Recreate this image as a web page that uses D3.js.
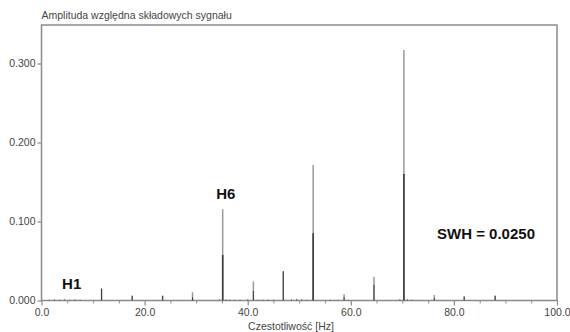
<!DOCTYPE html>
<html>
<head>
<meta charset="utf-8">
<script src="https://cdn.jsdelivr.net/npm/d3@7"></script>
<style>
  body { margin: 0; background: #fff; }
  svg { display: block; font-family: "Liberation Sans", Arial, sans-serif; }
</style>
</head>
<body>
<svg id="chart" width="570" height="332"></svg>
<script>
// Harmonic frequencies [Hz]
const freqs = [11.65, 17.6, 23.5, 29.3, 35.15, 41.1, 46.9, 52.7, 58.7, 64.5, 70.3, 76.2, 82.0, 88.0];
// light (gray) series amplitudes
const ampLight = [0.015, 0.006, 0.006, 0.0105, 0.1155, 0.024, 0.037, 0.1715, 0.008, 0.030, 0.317, 0.007, 0.005, 0.006];
// dark series amplitudes
const ampDark = [0.015, 0.006, 0.006, 0.004, 0.0576, 0.012, 0.037, 0.085, 0.004, 0.020, 0.160, 0.003, 0.005, 0.006];
// small baseline noise components
const noiseFreqs = [1.5, 2.5, 3.5, 4.5, 5.5, 6.5, 7.5, 34.5, 35.8, 36.5, 37.5, 38.5, 40.0, 42.0, 43.0, 44.0, 45.0, 48.5, 49.5, 50.5, 51.5, 56.0, 57.5, 59.5, 69.5, 71.0, 71.8];
const noiseAmps  = [0.001, 0.0015, 0.001, 0.0015, 0.001, 0.0015, 0.001, 0.0015, 0.0015, 0.001, 0.001, 0.001, 0.0015, 0.001, 0.001, 0.001, 0.001, 0.0015, 0.002, 0.0015, 0.001, 0.001, 0.001, 0.001, 0.0015, 0.0015, 0.001];
const xTicks = [0, 20, 40, 60, 80, 100];
const xMinorTicks = [5, 10, 15, 25, 30, 35, 45, 50, 55, 65, 70, 75, 85, 90, 95];
const yTicks = [0, 0.1, 0.2, 0.3];
const labels = [
  { text: "H1", f: 4.0, a: 0.014 },
  { text: "H6", f: 33.9, a: 0.128 }
];
const swhText = "SWH = 0.0250";

const svg = d3.select("#chart");
const mLeft = 41.5, mRight = 557, mTop = 25, mBottom = 300.5;
const x = d3.scaleLinear().domain([0, 100]).range([mLeft, mRight]);
const y = d3.scaleLinear().domain([0, 0.1]).range([mBottom, mBottom - 79]);

const axisColor = "#8a8a8a";
const textColor = "#444";

// frame
svg.append("rect")
  .attr("x", mLeft).attr("y", mTop)
  .attr("width", mRight - mLeft).attr("height", mBottom - mTop)
  .attr("fill", "none").attr("stroke", axisColor).attr("stroke-width", 1.5);

// x axis
const xAxis = d3.axisBottom(x).tickValues(xTicks).tickFormat(d3.format(".1f")).tickSize(5).tickPadding(3);
const gx = svg.append("g").attr("transform", `translate(0,${mBottom})`).call(xAxis);
gx.select(".domain").remove();
gx.selectAll("line").attr("stroke", axisColor).attr("stroke-width", 1.2);
gx.selectAll("text").attr("fill", textColor).style("font-size", "10.5px");

const xMinor = d3.axisBottom(x).tickValues(xMinorTicks).tickFormat("").tickSize(3);
const gxm = svg.append("g").attr("transform", `translate(0,${mBottom})`).call(xMinor);
gxm.select(".domain").remove();
gxm.selectAll("line").attr("stroke", axisColor);

// y axis
const yAxis = d3.axisLeft(y).tickValues(yTicks).tickFormat(d3.format(".3f")).tickSize(4).tickPadding(2);
const gy = svg.append("g").attr("transform", `translate(${mLeft},0)`).call(yAxis);
gy.select(".domain").remove();
gy.selectAll("line").attr("stroke", axisColor).attr("stroke-width", 1.2);
gy.selectAll("text").attr("fill", textColor).style("font-size", "10.5px");

// titles
svg.append("text").attr("x", mLeft).attr("y", 19)
  .attr("fill", textColor).style("font-size", "10.5px")
  .text("Amplituda względna składowych sygnału");
svg.append("text").attr("x", 291).attr("y", 330).attr("text-anchor", "middle")
  .attr("fill", textColor).style("font-size", "10.5px")
  .text("Czestotliwość [Hz]");

// noise
svg.append("g").selectAll("line").data(noiseFreqs).join("line")
  .attr("x1", d => x(d)).attr("x2", d => x(d))
  .attr("y1", y(0)).attr("y2", (d, i) => y(noiseAmps[i]))
  .attr("stroke", "#555").attr("stroke-width", 1);

// light series
svg.append("g").selectAll("line").data(freqs).join("line")
  .attr("x1", d => x(d)).attr("x2", d => x(d))
  .attr("y1", y(0)).attr("y2", (d, i) => y(ampLight[i]))
  .attr("stroke", "#9a9a9a").attr("stroke-width", 1.5);

// dark series
svg.append("g").selectAll("line").data(freqs).join("line")
  .attr("x1", d => x(d)).attr("x2", d => x(d))
  .attr("y1", y(0)).attr("y2", (d, i) => y(ampDark[i]))
  .attr("stroke", "#3a3a3a").attr("stroke-width", (d, i) => ampDark[i] > 0.04 ? 1.6 : 1);

// labels
svg.append("g").selectAll("text").data(labels).join("text")
  .attr("x", d => x(d.f)).attr("y", d => y(d.a))
  .attr("fill", "#111").style("font-size", "15px").style("font-weight", "bold")
  .text(d => d.text);
svg.append("text").attr("x", 437).attr("y", 239)
  .attr("fill", "#111").style("font-size", "15px").style("font-weight", "bold")
  .text(swhText);
</script>
</body>
</html>
